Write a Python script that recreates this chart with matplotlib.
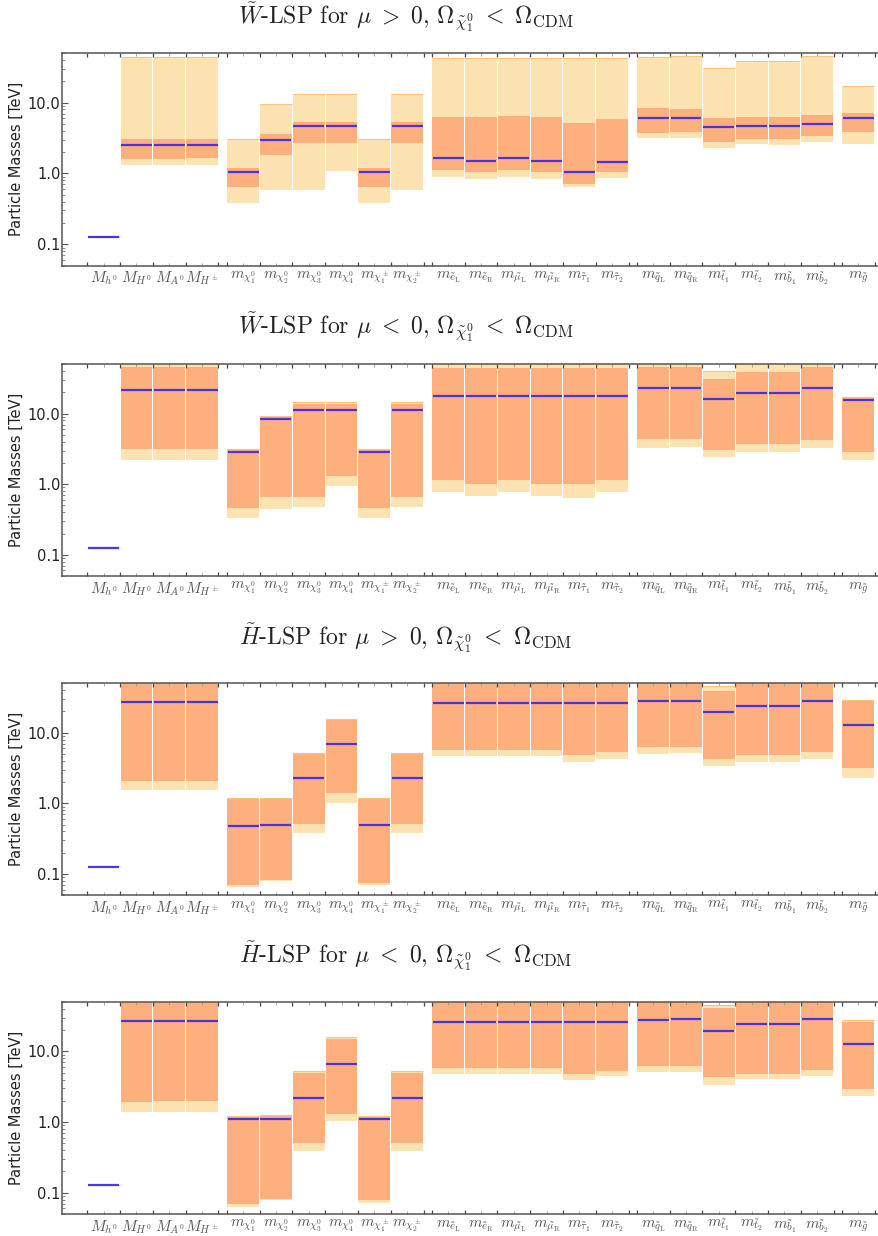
import matplotlib
matplotlib.use("Agg")
import matplotlib.pyplot as plt
import numpy as np
from matplotlib.ticker import FixedLocator, NullFormatter

plt.rcParams["mathtext.fontset"] = "cm"

# particle labels, in plotting order (groups: Higgs, -inos, sleptons, squarks, gluino)
LABELS = [r"$M_{h^0}$", r"$M_{H^0}$", r"$M_{A^0}$", r"$M_{H^\pm}$",
          r"$m_{\chi_1^0}$", r"$m_{\chi_2^0}$", r"$m_{\chi_3^0}$", r"$m_{\chi_4^0}$",
          r"$m_{\chi_1^\pm}$", r"$m_{\chi_2^\pm}$",
          r"$m_{\tilde{e}_{\rm L}}$", r"$m_{\tilde{e}_{\rm R}}$", r"$m_{\tilde{\mu}_{\rm L}}$",
          r"$m_{\tilde{\mu}_{\rm R}}$", r"$m_{\tilde{\tau}_1}$", r"$m_{\tilde{\tau}_2}$",
          r"$m_{\tilde{q}_{\rm L}}$", r"$m_{\tilde{q}_{\rm R}}$", r"$m_{\tilde{t}_1}$",
          r"$m_{\tilde{t}_2}$", r"$m_{\tilde{b}_1}$", r"$m_{\tilde{b}_2}$", r"$m_{\tilde{g}}$"]
GROUPS = [4, 6, 6, 6, 1]

TITLES = [(r"$\tilde{W}$", r"$\mu\ >\ 0$"), (r"$\tilde{W}$", r"$\mu\ <\ 0$"),
          (r"$\tilde{H}$", r"$\mu\ >\ 0$"), (r"$\tilde{H}$", r"$\mu\ <\ 0$")]

# masses in TeV: outer (all points) range, inner range, central value
wp_out_lo = [0.123, 1.30, 1.30, 1.30, 0.388, 0.574, 0.587, 1.09, 0.388, 0.587, 0.897, 0.84, 0.897, 0.84, 0.647, 0.868, 3.13, 3.13, 2.26, 2.58, 2.49, 2.75, 2.58]
wp_out_hi = [0.129, 43.7, 43.7, 43.7, 3.10, 9.42, 13.3, 13.3, 3.10, 13.3, 41.9, 42.4, 41.9, 42.4, 42.4, 42.4, 43.3, 45.2, 30.5, 38.4, 38.4, 44.7, 17.3]
wp_in_lo = [0.124, 1.61, 1.61, 1.67, 0.647, 1.84, 2.72, 2.72, 0.647, 2.72, 1.13, 1.06, 1.13, 1.06, 0.713, 1.06, 3.77, 3.90, 2.81, 3.10, 3.10, 3.42, 3.90]
wp_in_hi = [0.128, 3.07, 3.07, 3.07, 1.20, 3.54, 5.35, 5.35, 1.20, 5.35, 6.23, 6.23, 6.44, 6.23, 5.12, 5.90, 8.26, 8.18, 5.96, 6.16, 6.16, 6.58, 7.02]
wp_mid = [0.126, 2.49, 2.49, 2.49, 1.03, 3.00, 4.64, 4.64, 1.03, 4.64, 1.63, 1.50, 1.63, 1.50, 1.06, 1.46, 5.96, 6.03, 4.49, 4.69, 4.69, 4.96, 6.03]

wm_out_lo = [0.123, 2.19, 2.19, 2.19, 0.330, 0.443, 0.473, 0.937, 0.330, 0.473, 0.770, 0.676, 0.770, 0.676, 0.634, 0.770, 3.23, 3.34, 2.41, 2.84, 2.84, 3.23, 2.19]
wm_out_hi = [0.129, 60, 60, 60, 3.16, 9.37, 14.8, 14.8, 3.16, 14.8, 60, 60, 60, 60, 60, 60, 60, 60, 40.6, 60, 60, 60, 17.4]
wm_in_lo = [0.124, 3.20, 3.20, 3.20, 0.453, 0.648, 0.648, 1.30, 0.453, 0.648, 1.16, 1.02, 1.16, 1.02, 0.99, 1.16, 4.43, 4.43, 3.10, 3.76, 3.76, 4.29, 2.90]
wm_in_hi = [0.128, 46.3, 46.3, 46.3, 3.03, 8.87, 13.7, 13.7, 3.03, 13.7, 43.8, 43.8, 43.8, 43.8, 43.8, 43.8, 46.3, 46.3, 31.3, 39.3, 39.3, 46.3, 16.5]
wm_mid = [0.1256, 21.6, 21.6, 21.6, 2.87, 8.50, 11.3, 11.3, 2.87, 11.3, 18.0, 18.0, 18.0, 18.0, 17.8, 18.0, 22.8, 22.8, 16.1, 19.6, 19.6, 22.8, 15.8]

hp_out_lo = [0.124, 1.53, 1.53, 1.53, 0.0648, 0.0787, 0.376, 1.00, 0.0691, 0.376, 4.62, 4.62, 4.62, 4.62, 3.80, 4.19, 4.94, 5.10, 3.34, 3.80, 3.80, 4.19, 2.26]
hp_out_hi = [0.130, 60, 60, 60, 1.19, 1.19, 5.21, 15.8, 1.19, 5.21, 60, 60, 60, 60, 60, 60, 60, 60, 46.2, 60, 60, 60, 28.7]
hp_in_lo = [0.125, 2.09, 2.09, 2.09, 0.0706, 0.0813, 0.515, 1.42, 0.0754, 0.515, 5.75, 5.75, 5.75, 5.75, 4.88, 5.39, 6.34, 6.34, 4.29, 4.88, 4.88, 5.39, 3.20]
hp_in_hi = [0.129, 60, 60, 60, 1.15, 1.15, 5.10, 15.3, 1.15, 5.10, 60, 60, 60, 60, 60, 60, 60, 60, 39.3, 60, 60, 60, 27.7]
hp_mid = [0.127, 26.9, 26.9, 26.9, 0.483, 0.489, 2.28, 6.84, 0.489, 2.28, 26.3, 26.3, 26.3, 26.3, 26.3, 26.3, 28.4, 28.4, 19.8, 24.1, 24.1, 28.4, 13.0]

hm_out_lo = [0.124, 1.37, 1.37, 1.37, 0.0620, 0.0780, 0.385, 1.02, 0.0706, 0.385, 4.73, 4.73, 4.73, 4.73, 3.89, 4.43, 5.05, 5.05, 3.30, 4.02, 4.02, 4.43, 2.31]
hm_out_hi = [0.130, 60, 60, 60, 1.23, 1.27, 5.27, 16.1, 1.23, 5.27, 60, 60, 60, 60, 60, 60, 60, 60, 45.7, 60, 60, 60, 28.1]
hm_in_lo = [0.125, 1.94, 2.00, 2.00, 0.0699, 0.0822, 0.499, 1.31, 0.0780, 0.499, 5.87, 5.87, 5.87, 5.87, 4.83, 5.33, 6.27, 6.27, 4.29, 4.83, 4.83, 5.50, 2.96]
hm_in_hi = [0.129, 60, 60, 60, 1.18, 1.20, 4.99, 15.1, 1.18, 4.99, 60, 60, 60, 60, 60, 60, 60, 60, 40.6, 60, 60, 60, 26.0]
hm_mid = [0.127, 27.2, 27.2, 27.2, 1.11, 1.11, 2.21, 6.55, 1.11, 2.21, 26.3, 26.3, 26.3, 26.3, 26.3, 26.3, 28.1, 28.7, 19.6, 24.4, 24.4, 28.7, 12.7]

PANELS = [
    (wp_out_lo, wp_out_hi, wp_in_lo, wp_in_hi, wp_mid),
    (wm_out_lo, wm_out_hi, wm_in_lo, wm_in_hi, wm_mid),
    (hp_out_lo, hp_out_hi, hp_in_lo, hp_in_hi, hp_mid),
    (hm_out_lo, hm_out_hi, hm_in_lo, hm_in_hi, hm_mid),
]

OUTER = "#fde3b2"
INNER = "#fdb07e"
EDGE = "#fcc27e"
MID = "#2a1cf0"
W_PX, H_PX = 879, 1236
GAP = 0.25

# bar left edges: unit-width bars, small gap between groups
lefts = []
pos = 0.0
for g, n in enumerate(GROUPS):
    for i in range(n):
        lefts.append(pos)
        pos += 1.0
    pos += GAP
lefts = np.array(lefts)
centers = lefts + 0.5
edges = np.unique(np.concatenate([lefts, lefts + 1.0]))

# axes boxes in pixels: (top, bottom), plus title baseline
BOXES = [(53, 265.6, 24), (364.3, 576, 334), (683.3, 895.3, 645), (1002, 1214, 963)]
AX_LEFT = 62

fig = plt.figure(figsize=(W_PX / 100, H_PX / 100), dpi=100)

for (out_lo, out_hi, in_lo, in_hi, mid), (top, bot, tbase), (lsp, mu) in zip(PANELS, BOXES, TITLES):
    ax = fig.add_axes([AX_LEFT / W_PX, 1 - bot / H_PX, 1 - AX_LEFT / W_PX + 0.01, (bot - top) / H_PX])
    out_lo, out_hi = np.array(out_lo), np.array(out_hi)
    in_lo, in_hi = np.array(in_lo), np.array(in_hi)
    ax.bar(centers, out_hi - out_lo, bottom=out_lo, width=0.97, color=OUTER, linewidth=0)
    # thin darker rim on top of each outer band
    ax.hlines(out_hi, centers - 0.485, centers + 0.485, color=EDGE, lw=0.8)
    ax.bar(centers, in_hi - in_lo, bottom=in_lo, width=0.97, color=INNER, linewidth=0)
    ax.hlines(mid, centers - 0.47, centers + 0.47, color=MID, lw=1.6, alpha=0.85)

    ax.set_yscale("log")
    ax.set_ylim(0.05, 50)
    ax.set_xlim(-0.77, 24.4)
    ax.yaxis.set_major_locator(FixedLocator([0.1, 1, 10]))
    ax.set_yticklabels(["0.1", "1.0", "10.0"], fontsize=10.5, color="#222222")
    ax.yaxis.set_minor_locator(FixedLocator(
        [v * d for d in (0.01, 0.1, 1, 10) for v in range(2, 10) if 0.05 <= v * d <= 50]))
    ax.yaxis.set_minor_formatter(NullFormatter())
    ax.tick_params(axis="y", which="major", direction="in", length=4, width=0.8,
                   color="#555555", pad=1)
    ax.tick_params(axis="y", which="minor", direction="in", length=2, width=0.6, color="#777777")
    ax.tick_params(axis="y", right=False, which="both")

    ax.set_xticks(centers)
    ax.set_xticklabels(LABELS, fontsize=11, color="#555555")
    ax.xaxis.set_minor_locator(FixedLocator(edges))
    ax.tick_params(axis="x", which="major", direction="in", length=2, width=0.6,
                   color="#999999", top=True, pad=3)
    ax.tick_params(axis="x", which="minor", direction="in", length=3, width=0.9,
                   color="#444444", top=True)

    for s in ("left", "bottom", "top"):
        ax.spines[s].set_color("#555555")
        ax.spines[s].set_linewidth(1.1)
    ax.spines["right"].set_visible(False)
    ax.set_ylabel("Particle Masses [TeV]", fontsize=10.5, color="#222222", labelpad=3)

    title = (lsp + "-LSP for " + mu + ", " +
             r"$\Omega_{\tilde{\chi}_1^0}\ <\ \Omega_{\rm CDM}$")
    fig.text(406 / W_PX, 1 - tbase / H_PX, title, ha="center", va="baseline",
             fontsize=17, family="cmr10", color="#222222")

fig.savefig("out.png", dpi=100)
